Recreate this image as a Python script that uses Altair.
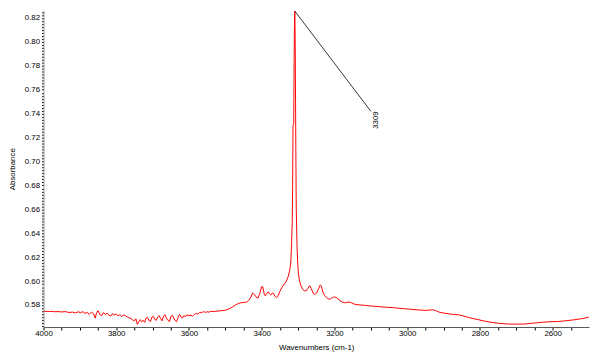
import altair as alt
import pandas as pd

# Spectrum (wavenumber cm-1, absorbance)
wavenumbers = [
    4000, 3990, 3980, 3970, 3960, 3950, 3940, 3930, 3920, 3912, 3905, 3898, 3892, 3886, 3880,
    3874, 3868, 3862, 3858, 3854, 3850, 3845, 3840, 3835, 3830, 3825, 3820, 3815, 3810, 3805,
    3800, 3795, 3790, 3785, 3780, 3775, 3770, 3765, 3760, 3755, 3750, 3746, 3742, 3738, 3734,
    3730, 3726, 3722, 3718, 3714, 3710, 3706, 3702, 3698, 3694, 3690, 3686, 3682, 3678, 3674,
    3670, 3666, 3662, 3658, 3654, 3650, 3646, 3642, 3638, 3634, 3630, 3626, 3622, 3618, 3614,
    3610, 3606, 3600, 3595, 3590, 3585, 3580, 3575, 3570, 3565, 3560, 3555, 3550, 3545, 3540,
    3530, 3520, 3510, 3500, 3490, 3480, 3472, 3465, 3458, 3450, 3442, 3436, 3430, 3425, 3420,
    3414, 3410, 3405, 3400, 3397, 3393, 3390, 3386, 3382, 3378, 3375, 3371, 3368, 3364, 3360,
    3356, 3350, 3344, 3338, 3332, 3327, 3323, 3320, 3318, 3316, 3315, 3314, 3312, 3311, 3310,
    3309, 3308, 3307, 3306, 3305, 3303, 3301, 3299, 3296, 3292, 3287, 3283, 3278, 3273, 3268,
    3264, 3259, 3254, 3249, 3244, 3239, 3236, 3232, 3227, 3222, 3216, 3210, 3205, 3200, 3195,
    3190, 3185, 3178, 3172, 3166, 3160, 3153, 3146, 3138, 3128, 3115, 3100, 3083, 3060, 3038,
    3015, 2993, 2970, 2948, 2938, 2930, 2922, 2912, 2900, 2885, 2870, 2858, 2845, 2831, 2818,
    2804, 2786, 2768, 2745, 2722, 2700, 2678, 2655, 2632, 2610, 2587, 2565, 2542, 2520, 2502,
    2500,
]
absorbance = [
    0.5748, 0.5746, 0.5747, 0.5744, 0.5745, 0.5742, 0.5745, 0.5738, 0.5741, 0.5733, 0.5744, 0.5736, 0.5745, 0.5730, 0.5738,
    0.5722, 0.5741, 0.5726, 0.5690, 0.5735, 0.5752, 0.5720, 0.5712, 0.5736, 0.5722, 0.5731, 0.5715, 0.5708, 0.5728, 0.5716,
    0.5724, 0.5710, 0.5720, 0.5705, 0.5716, 0.5712, 0.5700, 0.5693, 0.5688, 0.5676, 0.5668, 0.5685, 0.5638, 0.5662, 0.5678,
    0.5660, 0.5672, 0.5655, 0.5690, 0.5696, 0.5670, 0.5662, 0.5698, 0.5705, 0.5680, 0.5672, 0.5700, 0.5712, 0.5688, 0.5668,
    0.5705, 0.5720, 0.5690, 0.5672, 0.5662, 0.5700, 0.5715, 0.5692, 0.5670, 0.5660, 0.5698, 0.5722, 0.5700, 0.5693, 0.5712,
    0.5702, 0.5718, 0.5710, 0.5716, 0.5707, 0.5722, 0.5730, 0.5724, 0.5740, 0.5735, 0.5746, 0.5738, 0.5744, 0.5740, 0.5747,
    0.5746, 0.5750, 0.5753, 0.5756, 0.5768, 0.5784, 0.5800, 0.5812, 0.5818, 0.5822, 0.5824, 0.5838, 0.5866, 0.5900, 0.5888,
    0.5862, 0.5858, 0.5900, 0.5955, 0.5950, 0.5890, 0.5876, 0.5898, 0.5910, 0.5892, 0.5884, 0.5900, 0.5900, 0.5875, 0.5862,
    0.5870, 0.5915, 0.5950, 0.5975, 0.6000, 0.6040, 0.6090, 0.6160, 0.6300, 0.6500, 0.6800, 0.7300, 0.7320, 0.7800, 0.8150,
    0.8258, 0.8000, 0.7500, 0.7000, 0.6600, 0.6300, 0.6150, 0.6060, 0.6000, 0.5960, 0.5930, 0.5920, 0.5918, 0.5940, 0.5962,
    0.5940, 0.5900, 0.5888, 0.5900, 0.5935, 0.5968, 0.5960, 0.5910, 0.5880, 0.5862, 0.5850, 0.5852, 0.5864, 0.5868, 0.5862,
    0.5850, 0.5838, 0.5824, 0.5819, 0.5822, 0.5826, 0.5818, 0.5808, 0.5803, 0.5800, 0.5797, 0.5792, 0.5788, 0.5782, 0.5778,
    0.5771, 0.5765, 0.5759, 0.5755, 0.5758, 0.5760, 0.5754, 0.5740, 0.5733, 0.5726, 0.5720, 0.5718, 0.5708, 0.5696, 0.5686,
    0.5677, 0.5665, 0.5655, 0.5646, 0.5641, 0.5640, 0.5641, 0.5648, 0.5655, 0.5660, 0.5662, 0.5668, 0.5676, 0.5686, 0.5698,
    0.5699,
]

# Peak annotation
peak_label = "3309"
peak_wn = 3309
peak_ab = 0.8258
label_wn = 3100
label_ab = 0.742

# Axis ticks (major labelled, minor unlabelled)
x_major = [4000, 3800, 3600, 3400, 3200, 3000, 2800, 2600]
x_minor = [v for v in range(2550, 4001, 50)]
y_major = [0.58, 0.60, 0.62, 0.64, 0.66, 0.68, 0.70, 0.72, 0.74, 0.76, 0.78, 0.80, 0.82]
y_minor = [round(0.5625 + 0.0025 * i, 4) for i in range(106)]

FONT = "Liberation Sans"

df = pd.DataFrame({"wn": wavenumbers, "ab": absorbance})
xscale = alt.Scale(domain=[2500, 4000], reverse=True, nice=False, zero=False)
yscale = alt.Scale(domain=[0.5616, 0.8264], nice=False, zero=False)

x_major_js = "[" + ",".join(str(v) for v in x_major) + "]"
y_major_js = "[" + ",".join(str(int(round(v * 100))) for v in y_major) + "]"

xaxis = alt.Axis(
    values=x_minor,
    labelExpr="indexof(" + x_major_js + ", datum.value) >= 0 ? datum.label : ''",
    format="d",
    title="Wavenumbers (cm-1)",
    grid=False, tickSize=3, tickColor="#000000", domainColor="#555555",
    labelFont=FONT, labelFontSize=8, labelColor="#000000", labelPadding=0,
    labelFlush=False, labelOverlap=False, labelBound=False,
    titleFont=FONT, titleFontSize=8, titleFontWeight="normal", titleColor="#000000", titlePadding=6,
)
yaxis = alt.Axis(
    values=y_minor,
    format=".2f",
    labelExpr="indexof(" + y_major_js + ", round(datum.value*10000)/100) >= 0 ? datum.label : ''",
    title="Absorbance",
    grid=False,
    tickSize=2,
    tickColor="#000000", domainColor="#999999",
    labelFont=FONT, labelFontSize=8, labelColor="#000000", labelPadding=2,
    labelFlush=False, labelOverlap=False, labelBound=False,
    titleFont=FONT, titleFontSize=8, titleFontWeight="normal", titleColor="#000000", titlePadding=8,
)

X = alt.X("wn:Q", scale=xscale, axis=xaxis)
Y = alt.Y("ab:Q", scale=yscale, axis=yaxis)

spectrum = alt.Chart(df).mark_line(color="#ff0000", strokeWidth=1, clip=True).encode(x=X, y=Y)

annot_df = pd.DataFrame({"wn": [peak_wn, label_wn], "ab": [peak_ab, label_ab]})
leader = alt.Chart(annot_df).mark_line(color="#000000", strokeWidth=0.8).encode(x=X, y=Y)

label_df = pd.DataFrame({"wn": [label_wn], "ab": [label_ab], "t": [peak_label]})
label = alt.Chart(label_df).mark_text(
    angle=270, align="right", baseline="top", font=FONT, fontSize=8, color="#000000", dy=1
).encode(x=X, y=Y, text="t:N")

chart = alt.layer(spectrum, leader, label).properties(
    width=553, height=321,
    autosize=alt.AutoSizeParams(type="none"),
    padding={"left": 36, "top": 0, "right": 3, "bottom": 30},
    background="#ffffff",
).configure_view(strokeWidth=0)

chart.save("out.html", embed_options={"renderer": "svg", "actions": False})
